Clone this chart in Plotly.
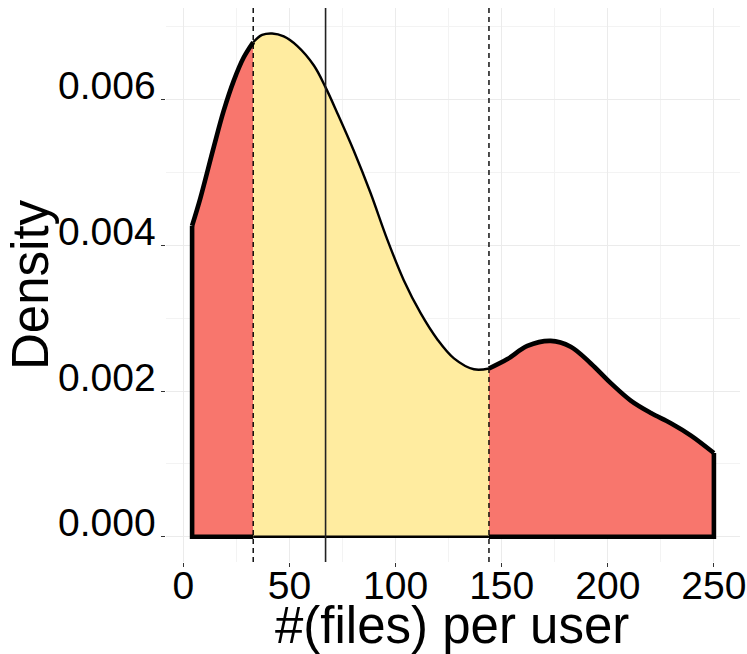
import plotly.graph_objects as go

# ---- data ----
x_vals = [4.1, 8.0, 14.3, 19.0, 23.7, 28.4, 32.9, 37.1, 41.8, 47.3, 53.6, 61.5,
          67.0, 72.5, 80.3, 88.2, 96.1, 103.9, 111.8, 119.7, 127.5, 136.9, 144.0,
          152.7, 162.1, 173.1, 182.5, 192.0, 201.4, 210.8, 220.3, 229.7, 239.2, 250.0]
dens_vals = [0.00427, 0.00465, 0.00535, 0.00585, 0.00626, 0.00658, 0.00679, 0.00689,
             0.00691, 0.00687, 0.00674, 0.00647, 0.00617, 0.00582, 0.00530, 0.00472,
             0.00408, 0.00352, 0.00307, 0.00271, 0.00245, 0.00230, 0.00231, 0.00244,
             0.00262, 0.00269, 0.00261, 0.00238, 0.00211, 0.00187, 0.00170, 0.00156,
             0.00139, 0.00115]
q_low = 32.9
q_high = 144.0
center_line = 67.0
x_ticks = [0, 50, 100, 150, 200, 250]
y_ticks = [0.000, 0.002, 0.004, 0.006]
y_tick_labels = ["0.000", "0.002", "0.004", "0.006"]
x_title = "#(files) per user"
y_title = "Density"

SALMON = "#F8766D"
YELLOW = "#FFECA0"
FONT = "Liberation Sans, Arial, Helvetica, sans-serif"

pts = list(zip(x_vals, dens_vals))
left = [p for p in pts if p[0] <= q_low]
mid = [p for p in pts if q_low <= p[0] <= q_high]
right = [p for p in pts if p[0] >= q_high]

def xs(seg):
    return [p[0] for p in seg]

def ys(seg):
    return [p[1] for p in seg]

fig = go.Figure()

# fills
for seg, col in [(left, SALMON), (mid, YELLOW), (right, SALMON)]:
    fig.add_trace(go.Scatter(x=xs(seg), y=ys(seg), mode="lines", fill="tozeroy",
                             fillcolor=col, line=dict(width=0, shape="spline", color=col),
                             hoverinfo="skip", showlegend=False))

THICK = 4.6
THIN = 2.4
# outlines: curves
for seg, w in [(left, THICK), (mid, THIN), (right, THICK)]:
    fig.add_trace(go.Scatter(x=xs(seg), y=ys(seg), mode="lines",
                             line=dict(width=w, shape="spline", color="black"),
                             hoverinfo="skip", showlegend=False))
# outlines: straight edges
x0, d0 = pts[0]
xe, de = pts[-1]
fig.add_trace(go.Scatter(x=[q_low, x0, x0], y=[0, 0, d0], mode="lines",
                         line=dict(width=THICK, color="black"), hoverinfo="skip", showlegend=False))
fig.add_trace(go.Scatter(x=[q_low, q_high], y=[0, 0], mode="lines",
                         line=dict(width=THIN, color="black"), hoverinfo="skip", showlegend=False))
fig.add_trace(go.Scatter(x=[xe, xe, q_high], y=[de, 0, 0], mode="lines",
                         line=dict(width=THICK, color="black"), hoverinfo="skip", showlegend=False))

# vertical reference lines
for xv, dash, col, w in [(q_low, "5px,4px", "black", 1.4), (q_high, "5px,4px", "black", 1.4),
                         (center_line, "solid", "#222222", 1.6)]:
    fig.add_shape(type="line", xref="x", yref="paper", x0=xv, x1=xv, y0=0, y1=1,
                  line=dict(color=col, width=w, dash=dash), layer="above")

L, R, T, B = 166, 7, 8, 92
W, H = 747, 654
pw, ph = W - L - R, H - T - B

# y tick labels (sitting on top of their tick, as in the reference)
for tv, tl in zip(y_ticks, y_tick_labels):
    fig.add_annotation(text=tl, xref="paper", yref="y", x=(158 - L) / pw, y=tv,
                       showarrow=False, xanchor="right", yanchor="middle", yshift=14,
                       font=dict(family=FONT, size=39, color="black"))

fig.add_annotation(text=y_title, xref="paper", yref="paper",
                   x=(30 - L) / pw, y=0.5, textangle=-90, showarrow=False,
                   xanchor="center", yanchor="middle",
                   font=dict(family=FONT, size=51, color="black"))
fig.add_annotation(text=x_title, xref="paper", yref="paper",
                   x=(452 - L) / pw, y=(H - B - 625) / ph, showarrow=False,
                   xanchor="center", yanchor="middle",
                   font=dict(family=FONT, size=51, color="black"))

fig.update_layout(
    width=W, height=H,
    margin=dict(l=L, r=R, t=T, b=B, pad=0, autoexpand=False),
    paper_bgcolor="white", plot_bgcolor="white",
    showlegend=False,
    font=dict(family=FONT, color="black"),
    xaxis=dict(range=[-8.2, 262.3], tickvals=x_ticks, ticktext=[str(v) for v in x_ticks],
               automargin=False, ticklabelstandoff=-15,
               showgrid=True, gridcolor="#EBEBEB", gridwidth=1,
               minor=dict(showgrid=True, gridcolor="#F3F3F3", gridwidth=0.8, dtick=25, tick0=0),
               zeroline=False, showline=False,
               ticks="outside", ticklen=4, tickcolor="#333333", tickwidth=1,
               tickfont=dict(family=FONT, size=39, color="black")),
    yaxis=dict(range=[-0.000346, 0.00726], tickvals=y_ticks, showticklabels=False,
               automargin=False,
               showgrid=True, gridcolor="#EBEBEB", gridwidth=1,
               minor=dict(showgrid=True, gridcolor="#F3F3F3", gridwidth=0.8, dtick=0.001, tick0=0),
               zeroline=False, showline=False,
               ticks="outside", ticklen=4, tickcolor="#333333", tickwidth=1),
)

fig.write_html("out.html", config={"displayModeBar": False},
               post_script="document.body.style.margin='0px';document.body.style.overflow='hidden';")
